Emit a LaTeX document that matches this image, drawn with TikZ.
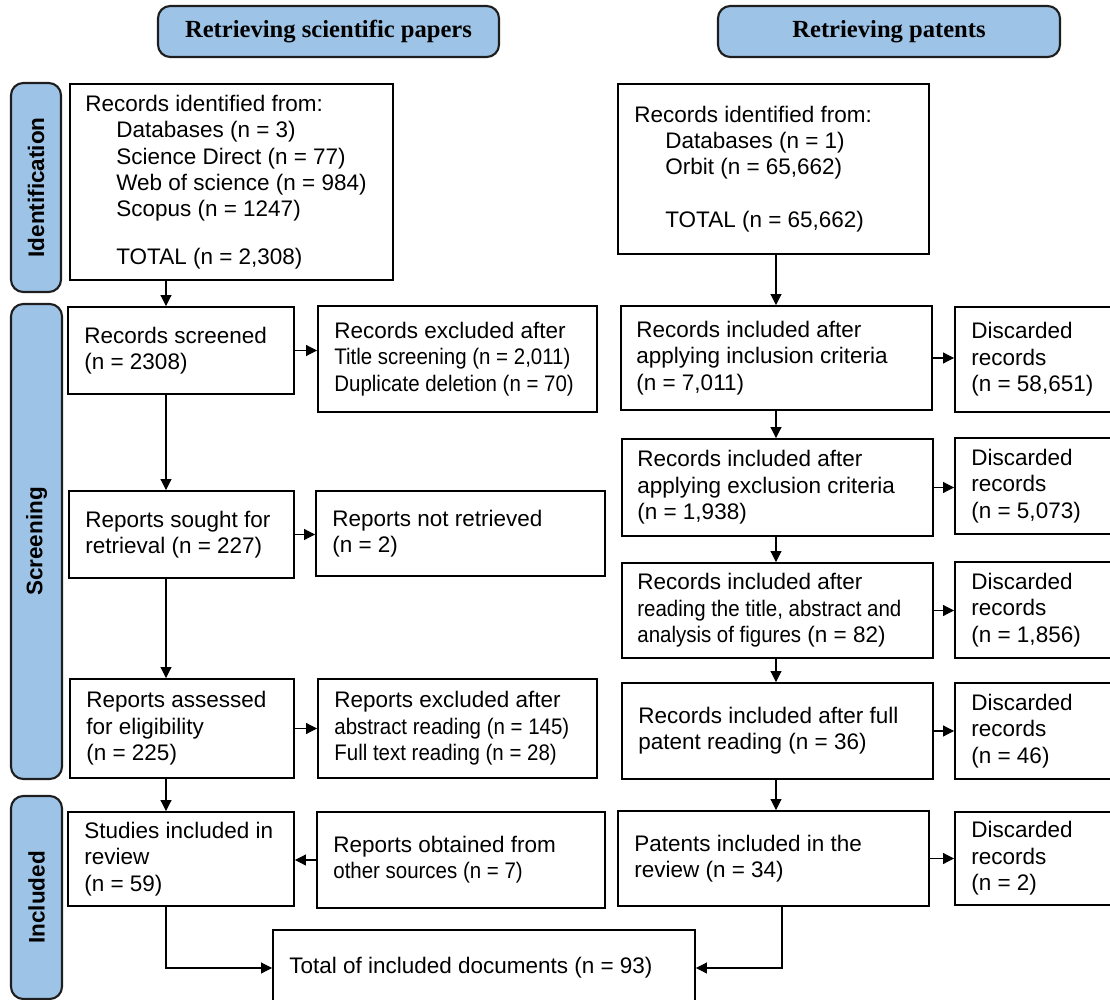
\documentclass[tikz,border=0pt]{standalone}
\usepackage{fontspec}
\setmainfont{Liberation Sans}
\newfontfamily\hdrfont{Liberation Serif}
\newfontfamily\nrwfont[FakeStretch=0.91]{Liberation Sans}
\usetikzlibrary{arrows.meta,fit}
\definecolor{stageblue}{RGB}{157,195,230}
\definecolor{edgedark}{RGB}{30,30,30}
\newcommand\indnt{\hspace*{0.62cm}}
\newcommand\nr[1]{{\nrwfont #1}}

\begin{document}
\begin{tikzpicture}[x=0.02cm,y=-0.02cm,
  box/.style={draw=black,line width=1.1pt,inner sep=0pt,fill=white},
  txt/.style={anchor=west,align=left,inner sep=0pt,font=\fontsize{12.8}{15}\selectfont},
  stage/.style={draw=edgedark,line width=1.2pt,fill=stageblue,rounded corners=7pt,inner sep=0pt},
  stagetxt/.style={rotate=90,inner sep=0pt,font=\fontsize{12.8}{15}\selectfont\bfseries},
  hdr/.style={draw=edgedark,line width=1.2pt,fill=stageblue,rounded corners=7pt,inner sep=0pt},
  hdrtxt/.style={inner sep=0pt,font=\hdrfont\fontsize{14}{16}\selectfont\bfseries},
  arr/.style={line width=0.6pt,-{Triangle[length=0.22cm,width=0.22cm]}}]

\useasboundingbox (0,0) rectangle (1110,1000);
\clip (0,0) rectangle (1110,1000);

% column headers
\node[hdr, fit={(158,6) (499,57)}] (h1) {};
\node[hdrtxt] (h1-t) at (h1) {Retrieving scientific papers};
\node[hdr, fit={(718,6) (1060,57)}] (h2) {};
\node[hdrtxt] (h2-t) at (h2) {Retrieving patents};

% stage bars
\node[stage, fit={(11,83) (61,292)}] (sid) {};
\node[stagetxt] (sid-t) at (sid) {Identification};
\node[stage, fit={(11,304) (62,779)}] (sscr) {};
\node[stagetxt] (sscr-t) at (sscr) {Screening};
\node[stage, fit={(11,796) (62,999)}] (sinc) {};
\node[stagetxt] (sinc-t) at (sinc) {Included};

% scientific papers column
\node[box, fit={(70,84) (393,280)}] (idl) {};
\node[txt] (idl-t) at ([xshift=0.32cm]idl.west) {Records identified from:\\
  \indnt Databases (n = 3)\\
  \indnt Science Direct (n = 77)\\
  \indnt Web of science (n = 984)\\
  \indnt Scopus (n = 1247)\\[12pt]
  \indnt TOTAL (n = 2,308)};

\node[box, fit={(68,307) (294,394)}] (scrn) {};
\node[txt] (scrn-t) at ([xshift=0.34cm]scrn.west) {Records screened\\(n = 2308)};

\node[box, fit={(318,306) (597,412)}] (exc1) {};
\node[txt] (exc1-t) at ([xshift=0.34cm]exc1.west) {Records excluded after\\
  \nr{Title screening (n = 2,011)}\\
  \nr{Duplicate deletion (n = 70)}};

\node[box, fit={(69,491) (294,578)}] (sought) {};
\node[txt] (sought-t) at ([xshift=0.34cm]sought.west) {Reports sought for\\retrieval (n = 227)};

\node[box, fit={(316,491) (605,576)}] (notr) {};
\node[txt] (notr-t) at ([xshift=0.34cm]notr.west) {Reports not retrieved\\(n = 2)};

\node[box, fit={(70,679) (294,778)}] (asses) {};
\node[txt] (asses-t) at ([xshift=0.34cm]asses.west) {Reports assessed\\for eligibility\\(n = 225)};

\node[box, fit={(318,679) (597,778)}] (exc2) {};
\node[txt] (exc2-t) at ([xshift=0.34cm]exc2.west) {Reports excluded after\\
  \nr{abstract reading (n = 145)}\\
  \nr{Full text reading (n = 28)}};

\node[box, fit={(68,812) (294,906)}] (stud) {};
\node[txt] (stud-t) at ([xshift=0.34cm]stud.west) {Studies included in\\review\\(n = 59)};

\node[box, fit={(317,812) (605,908)}] (obt) {};
\node[txt] (obt-t) at ([xshift=0.34cm]obt.west) {Reports obtained from\\\nr{other sources (n = 7)}};

\node[box, fit={(273,930) (695,1006)}] (tot) {};
\node[txt] (tot-t) at ([xshift=0.34cm]tot.west) {Total of included documents (n = 93)};

% patents column
\node[box, fit={(618,84) (929,254)}] (idr) {};
\node[txt] (idr-t) at ([xshift=0.34cm]idr.west) {Records identified from:\\
  \indnt Databases (n = 1)\\
  \indnt Orbit (n = 65,662)\\[15pt]
  \indnt TOTAL (n = 65,662)};

\node[box, fit={(621,306) (932,410)}] (incl) {};
\node[txt] (incl-t) at ([xshift=0.32cm]incl.west) {Records included after\\applying inclusion criteria\\(n = 7,011)};

\node[box, fit={(622,439) (933,536)}] (excl) {};
\node[txt] (excl-t) at ([xshift=0.32cm]excl.west) {Records included after\\applying exclusion criteria\\(n = 1,938)};

\node[box, fit={(622,563) (933,658)}] (read) {};
\node[txt] (read-t) at ([xshift=0.32cm]read.west) {Records included after\\
  \nr{reading the title, abstract and}\\
  \nr{analysis of figures} (n = 82)};

\node[box, fit={(622,683) (933,779)}] (full) {};
\node[txt] (full-t) at ([xshift=0.34cm]full.west) {Records included after full\\patent reading (n = 36)};

\node[box, fit={(618,811) (929,906)}] (pat) {};
\node[txt] (pat-t) at ([xshift=0.34cm]pat.west) {Patents included in the\\review (n = 34)};

\node[box, fit={(955,307) (1125,412)}] (dis1) {};
\node[txt] (dis1-t) at ([xshift=0.34cm]dis1.west) {Discarded\\records\\(n = 58,651)};
\node[box, fit={(955,438) (1125,534)}] (dis2) {};
\node[txt] (dis2-t) at ([xshift=0.34cm]dis2.west) {Discarded\\records\\(n = 5,073)};
\node[box, fit={(955,562) (1125,658)}] (dis3) {};
\node[txt] (dis3-t) at ([xshift=0.34cm]dis3.west) {Discarded\\records\\(n = 1,856)};
\node[box, fit={(955,683) (1125,779)}] (dis4) {};
\node[txt] (dis4-t) at ([xshift=0.34cm]dis4.west) {Discarded\\records\\(n = 46)};
\node[box, fit={(955,812) (1125,905)}] (dis5) {};
\node[txt] (dis5-t) at ([xshift=0.34cm]dis5.west) {Discarded\\records\\(n = 2)};

% guide lines for the vertical connectors
\coordinate (lc) at (166,0);
\coordinate (rc) at (776,0);
\coordinate (pc) at (782,0);

% scientific papers flow
\draw[arr] (idl.south -| lc) -- (scrn.north -| lc);
\draw[arr] (scrn.south -| lc) -- (sought.north -| lc);
\draw[arr] (sought.south -| lc) -- (asses.north -| lc);
\draw[arr] (asses.south -| lc) -- (stud.north -| lc);
\draw[arr] (stud.south -| lc) |- (tot.west);
\draw[arr] (scrn.east) -- (exc1.west |- scrn.east);
\draw[arr] (sought.east) -- (notr.west |- sought.east);
\draw[arr] (asses.east) -- (exc2.west |- asses.east);
\draw[arr] (obt.west) -- (stud.east |- obt.west);

% patents flow
\draw[arr] (idr.south -| rc) -- (incl.north -| rc);
\draw[arr] (incl.south -| rc) -- (excl.north -| rc);
\draw[arr] (excl.south -| rc) -- (read.north -| rc);
\draw[arr] (read.south -| rc) -- (full.north -| rc);
\draw[arr] (full.south -| rc) -- (pat.north -| rc);
\draw[arr] (pat.south -| pc) |- (tot.east);
\draw[arr] (incl.east) -- (dis1.west |- incl.east);
\draw[arr] (excl.east) -- (dis2.west |- excl.east);
\draw[arr] (read.east) -- (dis3.west |- read.east);
\draw[arr] (full.east) -- (dis4.west |- full.east);
\draw[arr] (pat.east) -- (dis5.west |- pat.east);
\end{tikzpicture}
\end{document}
